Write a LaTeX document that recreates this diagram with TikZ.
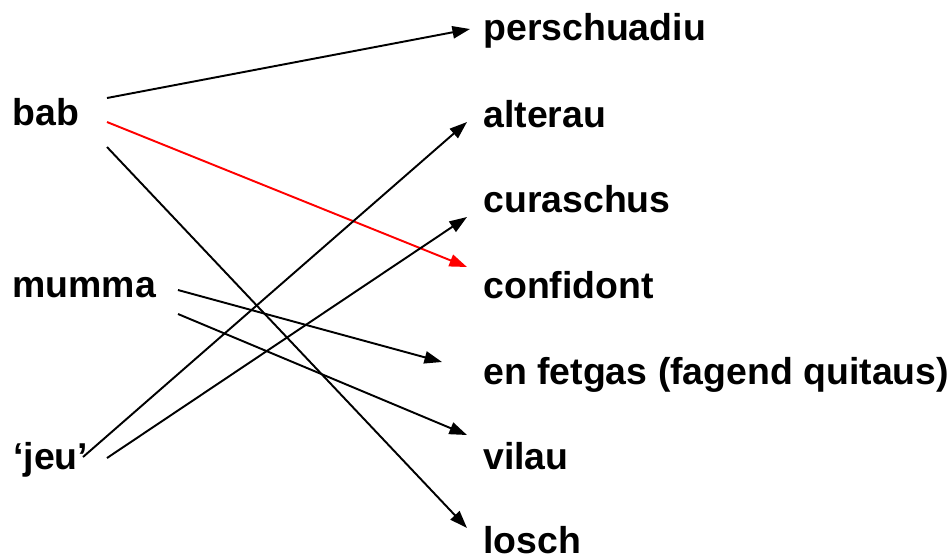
\documentclass[tikz,border=0pt]{standalone}
\usepackage{fontspec}
\setmainfont{Liberation Sans}
\usetikzlibrary{arrows.meta, calc}
\tikzstyle{word} = [anchor=base west, inner sep=0pt, font=\fontsize{21.3}{25}\selectfont\bfseries]
\tikzstyle{arrow} = [line width=1.1pt, -{Triangle[length=10pt, width=7pt]}]
\tikzstyle{redarrow} = [arrow, draw=red, -{Triangle[length=10pt, width=7pt, fill=red]}]
\begin{document}
\begin{tikzpicture}[x=0.02cm, y=-0.02cm]
    \useasboundingbox (0,0) rectangle (950,559);
    % left column
    \node (bab) [word] at (12,125) {bab}; \node (mumma) [word] at (12,297)
    {mumma}; \node (jeu) [word] at (13,469) {‘jeu’};
    % right column
    \node (persch) [word] at (483,40) {perschuadiu}; \node (alter) [word] at
    (483,127) {alterau}; \node (cura) [word] at (483,212) {curaschus}; \node
    (confi) [word] at (483,298) {confidont}; \node (fetgas) [word] at
    (483,384) {en fetgas (fagend quitaus)}; \node (vilau) [word] at (483,469)
    {vilau}; \node (losch) [word] at (483,553) {losch};

    \coordinate (B1) at ([shift={(95,-27)}]bab.base west); % starts at bab
    \coordinate (B2) at ([shift={(95,-3)}]bab.base west);
    \coordinate (B3) at ([shift={(95,22)}]bab.base west);
    \coordinate (M1) at ([shift={(166,-7)}]mumma.base west);
    \coordinate (M2) at ([shift={(166,17)}]mumma.base west);
    \coordinate (J1) at ([shift={(70,-12)}]jeu.base west);
    \coordinate (J2) at ([shift={(94,-11)}]jeu.base west);

    \coordinate (P) at ([shift={(-13,-11)}]persch.base west); % tips
    \coordinate (A) at ([shift={(-16,-5)}]alter.base west);
    \coordinate (C) at ([shift={(-16,5)}]cura.base west);
    \coordinate (K) at ([shift={(-16,-31)}]confi.base west);
    \coordinate (F) at ([shift={(-41,-22)}]fetgas.base west);
    \coordinate (V) at ([shift={(-16,-34)}]vilau.base west);
    \coordinate (L) at ([shift={(-16,-25)}]losch.base west);

    \draw [arrow] (B1) -- (P); \draw [redarrow] (B2) -- (K); \draw [arrow]
    (B3) -- (L); \draw [arrow] (M1) -- (F); \draw [arrow] (M2) -- (V);
    \draw [arrow] (J1) -- (A); \draw [arrow] (J2) -- (C);

  \end{tikzpicture}
\end{document}
